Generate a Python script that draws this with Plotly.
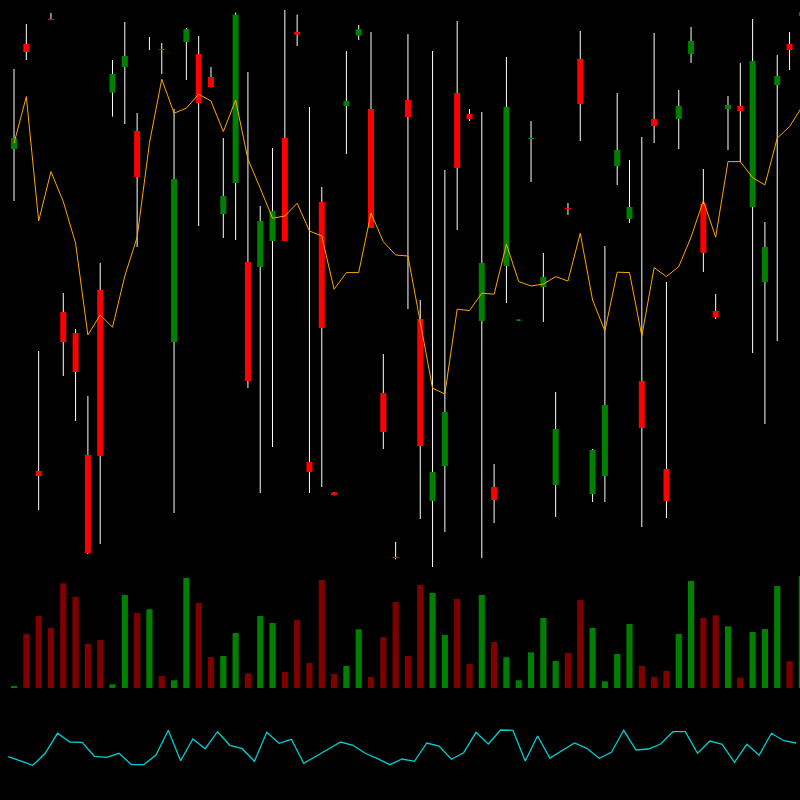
import plotly.graph_objects as go

opens = [41.05, 46.3, 24.95, 47.56, 32.9, 31.85, 25.75, 34.0, 43.87, 45.15,
         41.95, 46.3, 46.05, 31.4, 46.4, 45.8, 44.65, 37.8, 39.35, 35.4,
         35.15, 36.45, 41.6, 46.9, 25.4, 38.4, 23.88, 43.2, 46.72, 43.05,
         28.85, 20.66, 43.5, 32.55, 23.45, 25.2, 43.85, 42.8, 32.45, 24.15,
         35.2, 32.47, 41.55, 34.15, 24.25, 38.1, 45.55, 23.8, 24.7, 40.2,
         37.55, 29.45, 42.55, 25.05, 42.55, 45.8, 38.3, 32.95, 43.05, 43.2,
         38.15, 34.4, 44.25, 46.3, 47.7]

highs = [45.05, 47.3, 30.95, 47.85, 33.85, 32.05, 28.7, 35.35, 45.5, 47.4,
         42.85, 46.65, 46.35, 43.05, 47.1, 46.7, 45.15, 41.6, 47.87, 44.9,
         38.2, 41.1, 48.0, 47.77, 43.15, 39.15, 23.9, 45.95, 47.25, 46.9,
         30.8, 21.41, 46.8, 33.5, 45.95, 40.0, 47.45, 43.05, 42.9, 25.3,
         45.65, 32.53, 42.45, 35.85, 28.9, 38.35, 46.95, 26.05, 36.2, 43.85,
         40.5, 41.65, 46.85, 34.4, 44.0, 47.15, 40.05, 33.8, 43.7, 45.35,
         47.55, 37.4, 45.75, 46.9, 48.0]

lows = [38.45, 45.5, 23.0, 47.5, 29.7, 27.45, 20.8, 21.3, 42.67, 42.3,
        36.15, 46.0, 44.8, 22.85, 44.5, 37.2, 44.13, 36.6, 36.5, 29.1,
        23.85, 26.15, 36.45, 46.2, 23.85, 24.15, 23.73, 40.8, 46.5, 37.1,
        26.05, 20.53, 33.05, 22.55, 20.15, 21.9, 37.0, 42.45, 20.6, 22.35,
        33.35, 32.45, 39.4, 32.4, 22.65, 37.75, 41.45, 23.4, 23.4, 39.25,
        37.35, 22.15, 41.35, 22.6, 41.05, 45.35, 34.9, 32.55, 41.0, 40.4,
        30.85, 27.3, 31.45, 45.0, 47.5]

closes = [41.6, 45.9, 24.7, 47.5, 31.4, 29.9, 20.85, 25.7, 44.8, 45.7,
          39.65, 46.3, 46.0, 39.55, 47.05, 43.35, 44.15, 38.7, 47.77, 29.45,
          37.45, 37.95, 36.45, 46.77, 24.9, 32.1, 23.75, 43.45, 47.04, 37.1,
          26.9, 20.6, 42.65, 26.2, 24.9, 27.9, 40.1, 42.55, 35.35, 23.5,
          43.15, 32.52, 41.6, 34.65, 27.05, 38.05, 43.3, 26.0, 28.25, 41.0,
          38.15, 27.1, 42.2, 23.45, 43.2, 46.45, 35.85, 32.65, 43.25, 42.95,
          45.45, 36.15, 44.7, 46.0, 47.9]

ma_line = [41.34, 43.67, 37.45, 39.92, 38.42, 36.34, 31.75, 32.75, 32.14, 34.7,
           36.64, 41.34, 44.54, 42.84, 43.09, 43.79, 43.45, 41.92, 43.5, 40.54,
           39.09, 37.59, 37.7, 38.34, 36.95, 36.7, 34.04, 34.87, 34.87, 37.84,
           36.42, 35.75, 35.7, 32.4, 29.09, 28.8, 33.04, 32.97, 33.84, 33.79,
           36.29, 34.42, 34.2, 34.3, 34.67, 34.45, 36.84, 33.5, 31.95, 34.89,
           34.87, 31.7, 35.12, 34.67, 35.17, 36.64, 38.47, 36.64, 40.42, 40.42,
           39.62, 39.25, 41.59, 42.17, 43.15]

volumes = [13, 540, 720, 600, 1047, 910, 440, 480, 37, 930,
           750, 787, 120, 77, 1100, 850, 310, 320, 550, 147,
           720, 650, 160, 680, 250, 1080, 140, 220, 587, 110,
           507, 860, 320, 1030, 950, 530, 890, 240, 930, 460,
           307, 77, 357, 700, 270, 350, 880, 600, 67, 340,
           640, 220, 110, 170, 540, 1070, 700, 727, 617, 103,
           560, 590, 1020, 267, 1120]

oscillator = [43.3, 39, 34.7, 46.7, 66.7, 58, 57.7, 43.7, 42.7, 46.7,
              35.3, 35.3, 45, 69.7, 39.3, 61, 51.3, 68.3, 54.7, 51.3,
              38.7, 67.7, 56.7, 60.7, 36.7, 43.8, 50.9, 58, 54.7, 46.7,
              41.3, 35.3, 41, 38.7, 57, 54, 40.7, 47.3, 67.7, 56,
              70, 69.7, 39, 64, 42, 49.7, 57, 51.7, 41.7, 47.7,
              69.7, 50, 51, 56, 68.3, 68.3, 46.7, 59, 55.7, 37.7,
              55.7, 44.7, 66.7, 59.3, 57]

GREEN = "#008000"
RED = "#FF0000"
VOL_RED = "#800000"

n = len(opens)
idx = list(range(n))
up = [c >= o for o, c in zip(opens, closes)]

fig = go.Figure()

# wicks
wx, wy = [], []
for i in idx:
    wx += [i, i, None]
    wy += [lows[i], highs[i], None]
fig.add_trace(go.Scatter(x=wx, y=wy, mode="lines",
                         line=dict(color="white", width=1),
                         xaxis="x", yaxis="y", hoverinfo="skip"))

# bodies
for flag, col in [(True, GREEN), (False, RED)]:
    bx, by = [], []
    for i in idx:
        if up[i] == flag:
            bx += [i, i, None]
            by += [opens[i], closes[i], None]
    fig.add_trace(go.Scatter(x=bx, y=by, mode="lines",
                             line=dict(color=col, width=6),
                             xaxis="x", yaxis="y", hoverinfo="skip"))

# moving line
fig.add_trace(go.Scatter(x=idx, y=ma_line, mode="lines",
                         line=dict(color="#FFA500", width=1),
                         xaxis="x", yaxis="y", hoverinfo="skip"))

# volume
fig.add_trace(go.Bar(x=idx, y=volumes, width=0.5,
                     marker=dict(color=[GREEN if u else VOL_RED for u in up],
                                 line=dict(width=0)),
                     xaxis="x2", yaxis="y2", hoverinfo="skip"))

# oscillator
fig.add_trace(go.Scatter(x=idx, y=oscillator, mode="lines",
                         line=dict(color="#00CED1", width=1.3),
                         xaxis="x3", yaxis="y3", hoverinfo="skip"))

hidden = dict(visible=False, showgrid=False, zeroline=False)
fig.update_layout(
    width=800, height=800,
    margin=dict(l=0, r=0, t=0, b=0),
    paper_bgcolor="black", plot_bgcolor="black",
    showlegend=False, hovermode=False,
    xaxis=dict(domain=[0, 1], range=[-1.14, 63.85], anchor="y", **hidden),
    yaxis=dict(domain=[0.2875, 1], range=[20, 48.5], anchor="x", **hidden),
    xaxis2=dict(domain=[0, 1], range=[-1.14, 63.85], anchor="y2", **hidden),
    yaxis2=dict(domain=[0.14, 0.28], range=[0, 1120], anchor="x2", **hidden),
    xaxis3=dict(domain=[0, 1], range=[-0.67, 64.32], anchor="y3", **hidden),
    yaxis3=dict(domain=[0, 0.125], range=[0, 100], anchor="x3", **hidden),
)

fig.write_html(
    "out.html",
    config={"displayModeBar": False},
    post_script="document.body.style.margin='0';document.body.style.background='black';",
)
